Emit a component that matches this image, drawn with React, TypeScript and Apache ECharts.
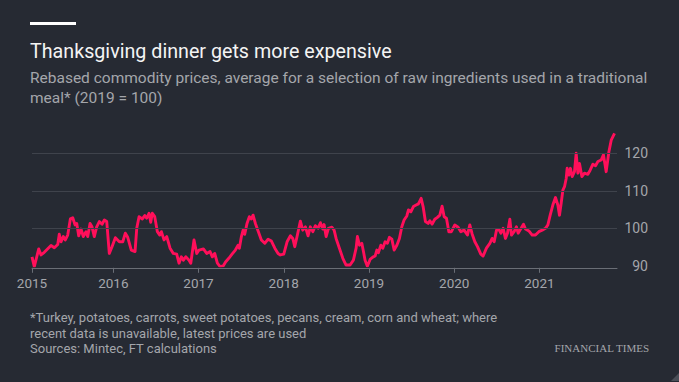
import React, { useEffect, useRef } from "react";
import * as echarts from "echarts";

// Decimal years (weekly-ish samples)
const yearFractions = [
  2015.046, 2015.073, 2015.125, 2015.152, 2015.19, 2015.269, 2015.308, 2015.348, 2015.366, 2015.386,
  2015.413, 2015.437, 2015.465, 2015.496, 2015.524, 2015.551, 2015.571, 2015.594, 2015.621, 2015.648,
  2015.68, 2015.7, 2015.727, 2015.75, 2015.777, 2015.805, 2015.836, 2015.868, 2015.895, 2015.923,
  2015.953, 2015.985, 2016.024, 2016.071, 2016.111, 2016.141, 2016.169, 2016.211, 2016.255, 2016.275,
  2016.302, 2016.341, 2016.369, 2016.392, 2016.419, 2016.439, 2016.458, 2016.486, 2016.517, 2016.545,
  2016.564, 2016.595, 2016.627, 2016.666, 2016.704, 2016.744, 2016.771, 2016.798, 2016.822, 2016.85,
  2016.889, 2016.909, 2016.947, 2016.979, 2017.006, 2017.057, 2017.096, 2017.135, 2017.162, 2017.19,
  2017.221, 2017.253, 2017.291, 2017.317, 2017.355, 2017.393, 2017.432, 2017.464, 2017.479, 2017.503,
  2017.523, 2017.542, 2017.569, 2017.596, 2017.62, 2017.64, 2017.667, 2017.699, 2017.737, 2017.777,
  2017.816, 2017.855, 2017.895, 2017.933, 2017.96, 2018.0, 2018.039, 2018.078, 2018.106, 2018.129,
  2018.156, 2018.195, 2018.223, 2018.254, 2018.285, 2018.312, 2018.341, 2018.371, 2018.403, 2018.43,
  2018.458, 2018.473, 2018.497, 2018.524, 2018.564, 2018.591, 2018.614, 2018.653, 2018.693, 2018.731,
  2018.778, 2018.817, 2018.849, 2018.864, 2018.888, 2018.916, 2018.935, 2018.954, 2018.981, 2019.013,
  2019.045, 2019.072, 2019.092, 2019.111, 2019.139, 2019.162, 2019.189, 2019.216, 2019.24, 2019.268,
  2019.295, 2019.327, 2019.357, 2019.385, 2019.412, 2019.444, 2019.463, 2019.491, 2019.521, 2019.553,
  2019.58, 2019.612, 2019.635, 2019.662, 2019.694, 2019.714, 2019.741, 2019.772, 2019.803, 2019.831,
  2019.858, 2019.882, 2019.909, 2019.937, 2019.967, 2020.007, 2020.046, 2020.078, 2020.116, 2020.155,
  2020.183, 2020.21, 2020.242, 2020.273, 2020.312, 2020.339, 2020.378, 2020.418, 2020.445, 2020.469,
  2020.496, 2020.524, 2020.547, 2020.574, 2020.601, 2020.625, 2020.653, 2020.672, 2020.703, 2020.73,
  2020.75, 2020.785, 2020.813, 2020.836, 2020.876, 2020.915, 2020.953, 2020.993, 2021.032, 2021.071,
  2021.099, 2021.126, 2021.157, 2021.188, 2021.216, 2021.235, 2021.255, 2021.275, 2021.294, 2021.314,
  2021.325, 2021.345, 2021.364, 2021.384, 2021.411, 2021.431, 2021.451, 2021.47, 2021.498, 2021.528,
  2021.568, 2021.595, 2021.627, 2021.658, 2021.686, 2021.724, 2021.751, 2021.783, 2021.815, 2021.842,
  2021.881,
];

// Rebased price index (2019 = 100)
const priceIndex = [
  92.4, 89.8, 94.5, 92.9, 93.6, 95.4, 94.8, 95.7, 98.4, 96.4,
  97.8, 96.9, 98.2, 102.5, 102.8, 100.9, 101.3, 98.0, 99.8, 97.8,
  99.1, 97.8, 101.3, 100.4, 97.8, 100.4, 101.8, 101.1, 102.2, 101.8,
  93.3, 95.1, 97.5, 96.4, 96.4, 98.7, 97.6, 94.2, 93.8, 100.0,
  103.1, 102.5, 103.4, 102.7, 104.0, 101.6, 104.0, 103.1, 99.1, 98.2,
  99.1, 96.9, 97.8, 94.7, 93.3, 93.1, 90.7, 92.4, 91.5, 92.4,
  91.5, 90.7, 96.9, 93.3, 94.2, 94.5, 93.3, 93.8, 92.4, 93.3,
  90.7, 89.8, 90.0, 91.0, 92.0, 93.1, 94.2, 95.5, 94.7, 97.8,
  99.5, 98.4, 101.3, 103.1, 102.5, 103.5, 101.3, 99.3, 96.9, 96.0,
  97.1, 96.6, 94.7, 93.3, 92.9, 93.1, 96.4, 98.0, 97.3, 95.1,
  97.8, 101.9, 99.5, 100.4, 98.0, 100.4, 99.1, 100.7, 100.0, 101.5,
  99.8, 101.0, 97.8, 100.0, 100.3, 99.5, 97.3, 94.7, 92.0, 90.2,
  90.2, 91.5, 94.7, 97.8, 95.5, 96.0, 93.8, 91.5, 89.9, 91.7,
  92.3, 92.6, 94.2, 93.5, 95.5, 94.7, 96.4, 96.0, 97.6, 97.1,
  94.2, 95.5, 97.3, 100.4, 102.2, 103.3, 104.9, 104.4, 105.8, 106.2,
  106.5, 108.0, 105.8, 101.8, 101.3, 102.0, 101.1, 102.4, 102.9, 103.5,
  105.9, 103.1, 102.7, 99.1, 99.1, 100.9, 100.3, 99.1, 99.5, 98.2,
  100.9, 98.5, 96.4, 95.1, 93.1, 92.6, 94.7, 96.0, 97.3, 96.4,
  99.5, 99.7, 98.7, 100.0, 97.3, 98.7, 102.4, 98.2, 99.1, 100.4,
  98.7, 100.0, 101.1, 99.8, 99.3, 98.2, 98.2, 99.1, 99.5, 100.0,
  100.9, 103.5, 106.2, 108.2, 106.2, 103.5, 106.7, 110.2, 111.1, 113.3,
  116.0, 114.2, 116.0, 113.8, 115.1, 120.0, 114.7, 117.3, 113.8, 114.7,
  114.4, 115.5, 117.1, 116.7, 117.8, 118.2, 119.6, 115.1, 120.4, 123.5,
  125.3,
];

const xTickYears = [2015.046, 2016, 2017, 2018, 2019, 2020, 2021];
const yTickValues = [90, 100, 110, 120];
const gridValues = [100, 110, 120];

const titleText = "Thanksgiving dinner gets more expensive";
const subtitleLines = [
  "Rebased commodity prices, average for a selection of raw ingredients used in a traditional",
  "meal* (2019 = 100)",
];
const footerLines = [
  "*Turkey, potatoes, carrots, sweet potatoes, pecans, cream, corn and wheat; where",
  "recent data is unavailable, latest prices are used",
  "Sources: Mintec, FT calculations",
];

const FONT = "Roboto, 'Noto Sans', sans-serif";
const GREY = "#a4a6ab";

export default function App() {
  const ref = useRef<HTMLDivElement>(null);

  useEffect(() => {
    if (!ref.current) return;
    const chart = echarts.init(ref.current, null, { renderer: "svg" });
    const seriesData = yearFractions.map((t, i) => [t, priceIndex[i]]);

    const graphic: any[] = [
      { type: "rect", shape: { x: 30, y: 22, width: 46, height: 3 }, style: { fill: "#ffffff" } },
      {
        type: "text",
        x: 30,
        y: 51,
        style: { text: titleText, fill: "#f4f4f4", font: `19.7px ${FONT}`, verticalAlign: "middle", textVerticalAlign: "middle" },
      },
      ...subtitleLines.map((t, i) => ({
        type: "text",
        x: 30,
        y: 77.5 + i * 20,
        style: { text: t, fill: GREY, font: `15.5px ${FONT}`, verticalAlign: "middle", textVerticalAlign: "middle" },
      })),
      ...footerLines.map((t, i) => ({
        type: "text",
        x: 30,
        y: 317.5 + i * 15.5,
        style: { text: t, fill: GREY, font: `13px ${FONT}`, verticalAlign: "middle", textVerticalAlign: "middle" },
      })),
      {
        type: "text",
        x: 649,
        y: 348,
        style: {
          text: "FINANCIAL TIMES",
          fill: GREY,
          font: "11px 'Liberation Serif', 'DejaVu Serif', serif",
          align: "right",
          textAlign: "right",
          verticalAlign: "middle",
          textVerticalAlign: "middle",
        },
      },
      {
        type: "polygon",
        shape: { points: [[671, 381], [679, 373], [679, 381]] },
        style: { fill: "#4a4e57" },
      },
    ];

    chart.setOption({
      animation: false,
      backgroundColor: "#262a33",
      grid: { left: 32, right: 62, top: 115.8, bottom: 116.2 },
      xAxis: {
        type: "value",
        min: 2015.046,
        max: 2021.91,
        offset: 2,
        axisLine: { show: true, lineStyle: { color: "#6a6e76", width: 1 } },
        axisTick: { show: true, length: 5, lineStyle: { color: "#6a6e76" }, customValues: xTickYears },
        axisLabel: {
          customValues: xTickYears,
          formatter: (v: number) => String(Math.round(v)),
          color: GREY,
          fontSize: 13.5,
          fontFamily: FONT,
          margin: 8,
        },
        splitLine: { show: false },
      },
      yAxis: {
        type: "value",
        position: "right",
        min: 90,
        max: 130,
        interval: 10,
        axisLine: { show: false },
        axisTick: { show: false },
        splitLine: { show: false },
        axisLabel: {
          customValues: yTickValues,
          formatter: (v: number) => (v > 125 ? "" : String(v)),
          align: "right",
          margin: 31,
          color: GREY,
          fontSize: 14,
          fontFamily: FONT,
        },
      },
      series: [
        {
          type: "line",
          data: [],
          z: 1,
          silent: true,
          markLine: {
            silent: true,
            symbol: "none",
            label: { show: false },
            lineStyle: { color: "#3f434c", type: "solid", width: 1 },
            data: gridValues.map((v) => ({ yAxis: v })),
          },
        },
        {
          type: "line",
          data: seriesData,
          z: 3,
          showSymbol: false,
          symbol: "none",
          lineStyle: { color: "#ff0f5a", width: 2.9, join: "round" },
        },
      ],
      graphic,
    });

    return () => chart.dispose();
  }, []);

  return (
    <div
      ref={ref}
      style={{ position: "fixed", left: 0, top: 0, width: 679, height: 382 }}
    />
  );
}
